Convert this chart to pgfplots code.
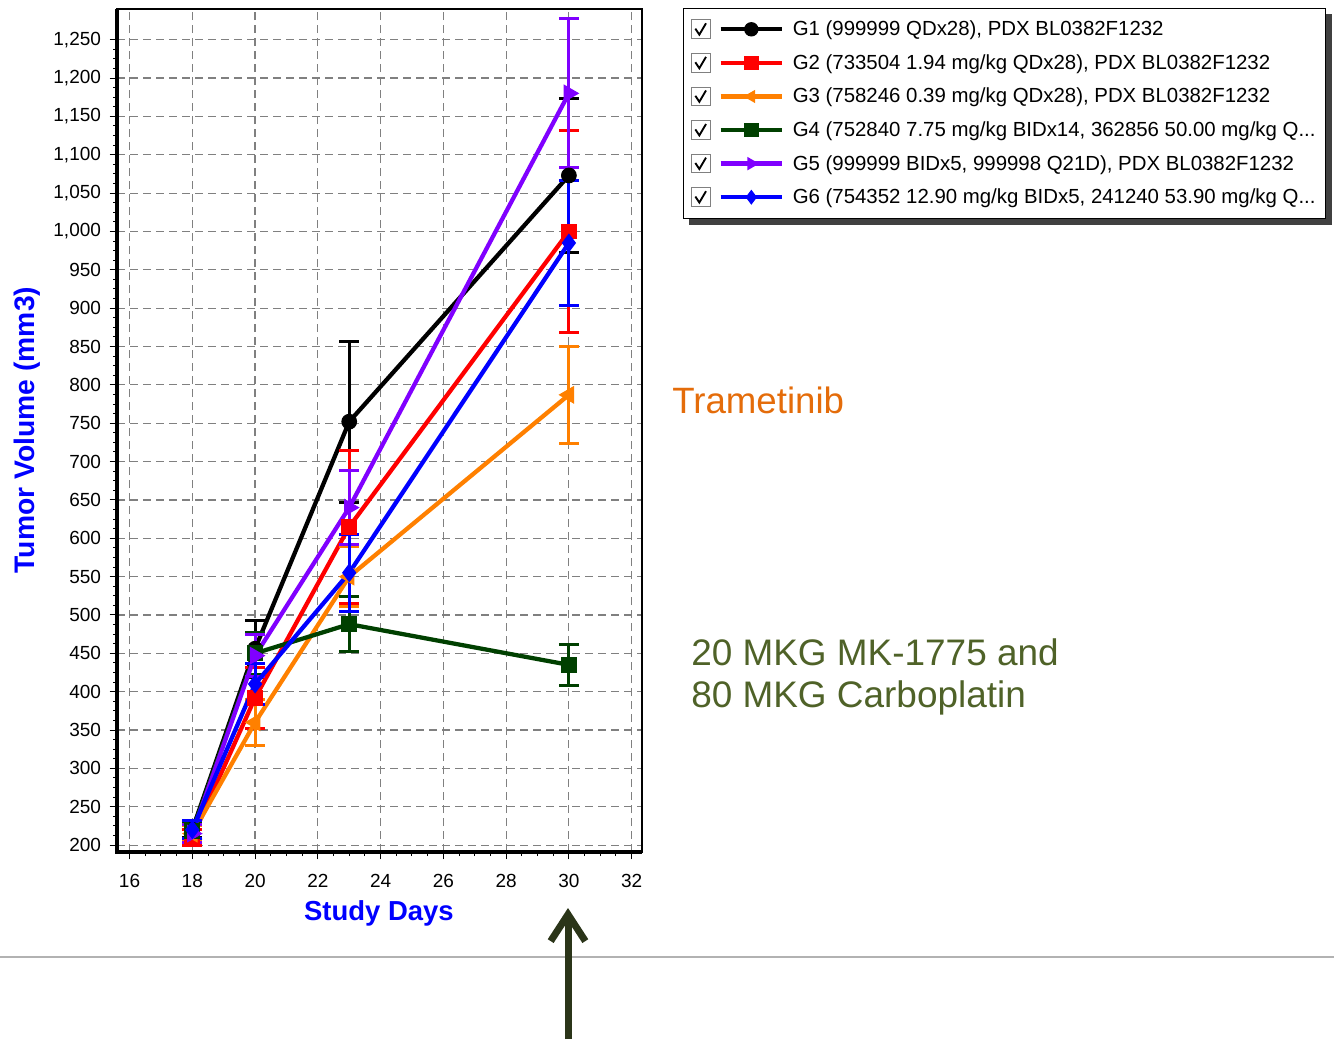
\documentclass[border=0pt]{standalone}
\usepackage{fontspec}
\setmainfont{Liberation Sans}
\usepackage{pgfplots}
\usepackage{pgfplotstable}
\pgfplotsset{compat=1.18}
\usetikzlibrary{arrows.meta,backgrounds}
\definecolor{gA}{RGB}{0,0,0}
\definecolor{gB}{RGB}{255,0,0}
\definecolor{gC}{RGB}{255,128,0}
\definecolor{gD}{RGB}{0,64,0}
\definecolor{gE}{RGB}{128,0,255}
\definecolor{gF}{RGB}{0,0,255}
\definecolor{tramC}{RGB}{228,108,10}
\definecolor{oliveC}{RGB}{79,98,40}
\definecolor{arrowC}{RGB}{43,53,25}

\pgfplotstableread{
x y e
18 220 10
20 456 37
23 752 105
30 1073 100
}\gone
\pgfplotstableread{
x y e
18 210 10
20 392 40
23 615 100
30 1000 132
}\gtwo
\pgfplotstableread{
x y e
18 215 10
20 360 30
23 550 39
30 787 63
}\gthree
\pgfplotstableread{
x y e
18 218 10
20 450 27
23 488 36
30 435 27
}\gfour
\pgfplotstableread{
x y e
18 215 12
20 447 27
23 640 48
30 1180 97
}\gfive
\pgfplotstableread{
x y e
18 220 12
20 410 27
23 555 50
30 985 81
}\gsix

\pgfplotsset{
  ser/.style={color=#1, line width=3.2pt,
    error bars/.cd, y dir=both, y explicit,
    error bar style={line width=2.25pt, color=#1},
    error mark options={rotate=90, mark size=7.5pt, line width=2.25pt, color=#1}},
}

\begin{document}
\begin{tikzpicture}
\useasboundingbox (0,0) rectangle (1000.5pt,-779.25pt);
\begin{axis}[
  at={(87.75pt,-639pt)}, anchor=south west,
  scale only axis, width=393.75pt, height=632.25pt,
  xmin=15.6, xmax=32.33, ymin=191, ymax=1290,
  xtick={16,18,...,32}, ytick={200,250,...,1250},
  minor x tick num=3, minor y tick num=3,
  tick align=outside, tick pos=left,
  major tick length=5.5pt, minor tick length=3pt,
  every tick/.style={black, line width=0.75pt},
  axis line style={line width=1.5pt},
  grid=major,
  major grid style={gray, line width=0.9pt, dash pattern=on 6pt off 3.75pt},
  /pgf/number format/assume math mode=true,
  ticklabel style={font=\fontsize{14.25}{16}\selectfont},
  y tick label style={/pgf/number format/1000 sep={,}, xshift=-3pt},
  x tick label style={/pgf/number format/1000 sep={}, yshift=-7.5pt},
  xlabel={Study Days},
  xlabel style={font=\bfseries\fontsize{20.6}{24}\selectfont, text=blue, at={(axis description cs:0.499,-0.0724)}, anchor=center},
  ylabel={Tumor Volume (mm3)},
  ylabel style={font=\bfseries\fontsize{21.2}{24}\selectfont, text=blue, at={(axis description cs:-0.171,0.5006)}, anchor=center},
  legend cell align=left,
  legend style={name=leg, at={(axis description cs:1.0781,1.0015)}, anchor=north west,
    draw=black, line width=0.75pt, fill=white,
    font=\fontsize{15.3}{18}\selectfont, inner xsep=5.5pt, inner ysep=7.5pt,
    row sep=8.6pt, column sep=4.5pt},
  legend image code/.code={%
    \draw[gray, line width=0.75pt, solid, fill=white] (0pt,-7pt) rectangle (14pt,7pt);
    \draw[black, line width=1.4pt, solid] (3pt,0.5pt) -- (6pt,-4pt) -- (11pt,4.5pt);
    \draw[mark repeat=2, mark phase=2, #1, mark size=5pt] plot coordinates {(22pt,0pt) (45pt,0pt) (68pt,0pt)};
  },
  extra description/.code={\draw[black, line width=2.6pt] (0,1) -- (0,0) -- (1,0);},
]
\addplot[mark=*, mark size=5.5pt, mark options={solid, fill=gA, line width=0.8pt}, ser=gA] table[x=x, y=y, y error=e] {\gone};
\addlegendentry{G1 (999999 QDx28), PDX BL0382F1232}
\addplot[mark=square*, mark size=5.5pt, mark options={solid, fill=gB, line width=0.8pt}, ser=gB] table[x=x, y=y, y error=e] {\gtwo};
\addlegendentry{G2 (733504 1.94 mg/kg QDx28), PDX BL0382F1232}
\addplot[mark=triangle*, mark size=7pt, mark options={solid, fill=gC, rotate=90, line width=0.8pt}, ser=gC] table[x=x, y=y, y error=e] {\gthree};
\addlegendentry{G3 (758246 0.39 mg/kg QDx28), PDX BL0382F1232}
\addplot[mark=square*, mark size=5.5pt, mark options={solid, fill=gD, line width=0.8pt}, ser=gD] table[x=x, y=y, y error=e] {\gfour};
\addlegendentry{G4 (752840 7.75 mg/kg BIDx14, 362856 50.00 mg/kg Q...}
\addplot[mark=triangle*, mark size=7pt, mark options={solid, fill=gE, rotate=-90, line width=0.8pt}, ser=gE] table[x=x, y=y, y error=e] {\gfive};
\addlegendentry{G5 (999999 BIDx5, 999998 Q21D), PDX BL0382F1232}
\addplot[mark=diamond*, mark size=6.5pt, mark options={solid, fill=gF, line width=0.8pt}, ser=gF] table[x=x, y=y, y error=e] {\gsix};
\addlegendentry{G6 (754352 12.90 mg/kg BIDx5, 241240 53.90 mg/kg Q...}
\end{axis}
\begin{scope}[on background layer]
\fill[black!75] ([xshift=4.5pt,yshift=-4.5pt]leg.south west) rectangle ([xshift=4.5pt,yshift=-4.5pt]leg.north east);
\end{scope}
\node[anchor=base west, text=tramC, font=\fontsize{27.5}{33}\selectfont, inner sep=0pt] at (504pt,-309.75pt) {Trametinib};
\node[anchor=base west, text=oliveC, font=\fontsize{27.7}{33}\selectfont, inner sep=0pt] at (518.25pt,-498.75pt) {20 MKG MK-1775 and};
\node[anchor=base west, text=oliveC, font=\fontsize{27.7}{33}\selectfont, inner sep=0pt] at (518.25pt,-530.25pt) {80 MKG Carboplatin};
\draw[gray!60, line width=1.5pt] (0,-717.75pt) -- (1000.5pt,-717.75pt);
\draw[arrowC, line width=5.25pt, -{Straight Barb[length=20pt,width=26pt]}] (426pt,-779.25pt) -- (426pt,-681pt);
\end{tikzpicture}
\end{document}
